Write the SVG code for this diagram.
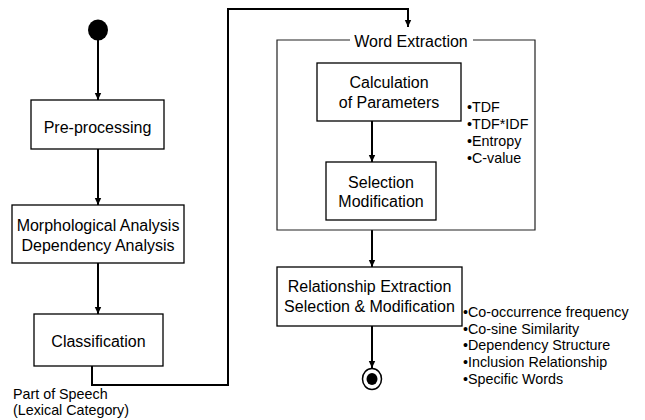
<svg xmlns="http://www.w3.org/2000/svg" width="645" height="420" viewBox="0 0 645 420">
  <defs>
    <marker id="arrow" markerUnits="userSpaceOnUse" markerWidth="8" markerHeight="8" refX="7" refY="4" orient="auto">
      <path d="M0,0.8 L7,4 L0,7.2 Z" fill="#000"/>
    </marker>
  </defs>
  <style>
    .box { fill: #fff; stroke: #000; stroke-width: 1.3; }
    .frame { fill: none; stroke: #222; stroke-width: 1.2; }
    .label { font-family: "Liberation Sans", Arial, sans-serif; font-size: 16px; fill: #000; text-anchor: middle; }
    .note { font-family: "Liberation Sans", Arial, sans-serif; font-size: 14.3px; fill: #000; }
    .edge { fill: none; stroke: #000; stroke-width: 2; marker-end: url(#arrow); }
    .wire { fill: none; stroke: #000; stroke-width: 2; }
  </style>
  <rect width="645" height="420" fill="#fff"/>

  <!-- connectors -->
  <g id="connectors">
    <path class="edge" d="M98,40 V100"/>
    <path class="edge" d="M98,149 V205"/>
    <path class="edge" d="M98,263 V314"/>
    <path class="edge" d="M92,366 V385 H228 V9 H408 V27"/>
    <path class="edge" d="M372,121 V162"/>
    <path class="edge" d="M372,230 V267"/>
    <path class="edge" d="M372,326 V368"/>
  </g>

  <!-- start state -->
  <g id="start">
    <ellipse cx="98" cy="30" rx="10" ry="10.5" fill="#000"/>
  </g>

  <g id="preprocessing">
    <rect class="box" x="31" y="100" width="133" height="49"/>
    <text class="label" x="97.5" y="133">Pre-processing</text>
  </g>

  <g id="morphological">
    <rect class="box" x="12" y="205" width="172" height="58"/>
    <text class="label" x="98" y="231">Morphological Analysis</text>
    <text class="label" x="98" y="251">Dependency Analysis</text>
  </g>

  <g id="classification">
    <rect class="box" x="34" y="314" width="129" height="52"/>
    <text class="label" x="98.5" y="347">Classification</text>
  </g>

  <g id="pos-note">
    <text class="note" x="13" y="399">Part of Speech</text>
    <text class="note" x="13" y="415">(Lexical Category)</text>
  </g>

  <!-- word extraction frame -->
  <g id="word-extraction">
    <path class="frame" d="M350,40 H277 V230 H535 V40 H473"/>
    <text class="label" x="411" y="47">Word Extraction</text>
  </g>

  <g id="calculation">
    <rect class="box" x="317" y="63" width="144" height="58"/>
    <text class="label" x="389" y="88">Calculation</text>
    <text class="label" x="389" y="108">of Parameters</text>
  </g>

  <g id="selection">
    <rect class="box" x="326" y="162" width="110" height="58"/>
    <text class="label" x="381" y="188">Selection</text>
    <text class="label" x="381" y="207">Modification</text>
  </g>

  <g id="word-params">
    <text class="note" x="467" y="112">•TDF</text>
    <text class="note" x="467" y="129">•TDF*IDF</text>
    <text class="note" x="467" y="146">•Entropy</text>
    <text class="note" x="467" y="163">•C-value</text>
  </g>

  <g id="relationship">
    <rect class="box" x="277" y="267" width="185" height="59"/>
    <text class="label" x="369.5" y="292">Relationship Extraction</text>
    <text class="label" x="369.5" y="312">Selection &amp; Modification</text>
  </g>

  <g id="relation-params">
    <text class="note" x="463" y="317">•Co-occurrence frequency</text>
    <text class="note" x="463" y="334">•Co-sine Similarity</text>
    <text class="note" x="463" y="350">•Dependency Structure</text>
    <text class="note" x="463" y="367">•Inclusion Relationship</text>
    <text class="note" x="463" y="384">•Specific Words</text>
  </g>

  <!-- final state -->
  <g id="end">
    <ellipse cx="372" cy="379" rx="9.5" ry="10.5" fill="#fff" stroke="#000" stroke-width="1.5"/>
    <ellipse cx="372" cy="379" rx="5.5" ry="6" fill="#000"/>
  </g>
</svg>
